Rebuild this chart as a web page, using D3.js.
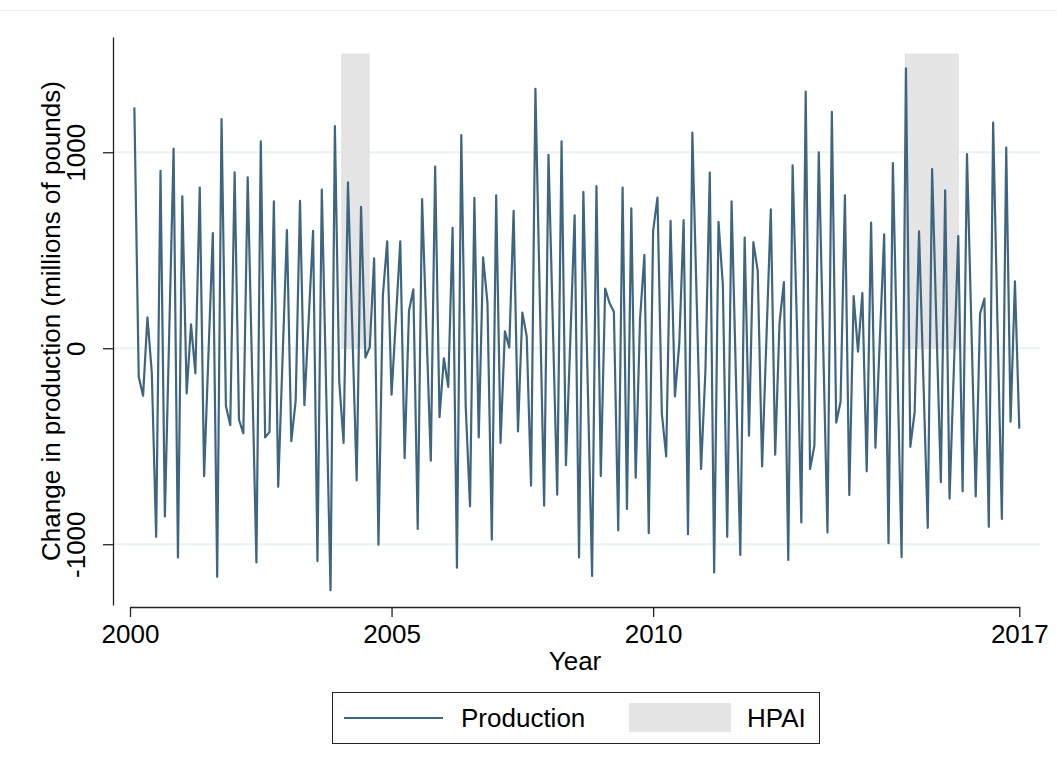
<!DOCTYPE html>
<html>
<head>
<meta charset="utf-8">
<script src="https://cdn.jsdelivr.net/npm/d3@7"></script>
<style>
  body { margin: 0; background: #fff; }
  svg { display: block; font-family: "Liberation Sans", Arial, sans-serif; }
</style>
</head>
<body>
<svg width="1057" height="771"></svg>
<script>
// monthly change in production, starting Feb 2000
var firstYear = 2000
var firstMonth = 2
var production = [
  1229, -146, -242, 158, -124, -962, 905, -858, 80, 1018, -1067,
  775, -231, 122, -128, 820, -653, -30, 587, -1166, 1169, -295, -392,
  898, -365, -434, 872, -110, -1093, 1055, -455, -428, 749, -707, -50,
  603, -474, -270, 752, -290, 150, 599, -1086, 809, -210, -1235, 1133,
  -170, -483, 847, 90, -674, 721, -47, 5, 459, -1002, 266, 546,
  -237, 150, 546, -561, 191, 300, -922, 761, 95, -574, 927, -352,
  -51, -197, 614, -1120, 1087, -290, -807, 767, -455, 464, 231, -976,
  780, -483, 86, 4, 701, -424, 182, 62, -701, 1324, 260, -803,
  987, 120, -747, 1055, -597, 40, 678, -1067, 798, -180, -1162, 827,
  -652, 304, 231, 186, -929, 820, -820, 714, -661, 149, 477, -944,
  599, 769, -333, -552, 650, -246, 22, 654, -949, 1100, 240, -616,
  -115, 896, -1144, 645, 322, -962, 749, -150, -1055, 565, -446, 541,
  395, -603, 55, 709, -543, 131, 337, -1080, 933, 110, -889, 1310,
  -616, -497, 1000, 30, -940, 1206, -379, -273, 780, -749, 266, -18,
  282, -628, 641, -508, 40, 581, -995, 945, -60, -1066, 1428, -503,
  -324, 596, -160, -916, 914, 110, -683, 805, -767, -100, 572, -730,
  991, 120, -756, 177, 253, -911, 1151, 120, -871, 1024, -375, 341,
  -410
]

// HPAI outbreak periods (decimal years) and bar height
var hpaiStart = [2004.05, 2014.82]
var hpaiEnd = [2004.57, 2015.83]
var hpaiTop = 1500

var xTicks = [2000, 2005, 2010, 2017]
var yTicks = [-1000, 0, 1000]

var lineColor = "#3e6680"
var shadeColor = "#e5e5e5"
var gridColor = "#eaf1f3"
var font = 26

var data = production.map(function(v, i) {
  return { t: firstYear + (firstMonth - 1 + i) / 12, v: v }
})
var hpai = hpaiStart.map(function(s, i) { return { s: s, e: hpaiEnd[i] } })

var svg = d3.select("svg")

var xScale = d3.scaleLinear().domain([2000, 2017]).range([130, 1019.3])
var yScale = d3.scaleLinear().domain([-1310, 1588]).range([605, 37])

// faint outer frame line at top
svg.append("line")
  .attr("x1", 0).attr("x2", 1057).attr("y1", 10.5).attr("y2", 10.5)
  .attr("stroke", "#eeeeee").attr("stroke-width", 1)

// gridlines
svg.append("g").selectAll("line")
  .data(yTicks)
  .enter()
  .append("line")
  .attr("x1", 113).attr("x2", 1040)
  .attr("y1", function(d) { return yScale(d) })
  .attr("y2", function(d) { return yScale(d) })
  .attr("stroke", gridColor)
  .attr("stroke-width", 2)

// HPAI shading
svg.append("g").selectAll("rect")
  .data(hpai)
  .enter()
  .append("rect")
  .attr("x", function(d) { return xScale(d.s) })
  .attr("width", function(d) { return xScale(d.e) - xScale(d.s) })
  .attr("y", yScale(hpaiTop))
  .attr("height", yScale(0) - yScale(hpaiTop))
  .attr("fill", shadeColor)
  .attr("stroke", "#dddddd")
  .attr("stroke-width", 1)

// production line
var line = d3.line()
  .x(function(d) { return xScale(d.t) })
  .y(function(d) { return yScale(d.v) })

svg.append("path")
  .datum(data)
  .attr("d", line)
  .attr("fill", "none")
  .attr("stroke", lineColor)
  .attr("stroke-width", 2.2)
  .attr("stroke-linejoin", "round")

// x axis
var xAxis = d3.axisBottom(xScale)
  .tickValues(xTicks)
  .tickFormat(function(d) { return String(d) })
  .tickSize(10)
  .tickSizeOuter(0)

var gx = svg.append("g")
  .attr("transform", "translate(0,607)")
  .call(xAxis)
gx.select(".domain").attr("stroke", "#222").attr("stroke-width", 1.3)
gx.selectAll(".tick line").attr("stroke", "#222").attr("stroke-width", 1.3)
gx.selectAll(".tick text")
  .attr("y", 36).attr("dy", 0)
  .attr("fill", "#000")
  .style("font-size", font + "px")
  .style("font-family", "'Liberation Sans', Arial, sans-serif")

// y axis (plain hyphen for negatives, like the original)
var yAxis = d3.axisLeft(yScale)
  .tickValues(yTicks)
  .tickFormat(function(d) { return String(d) })
  .tickSize(10)
  .tickSizeOuter(0)

var gy = svg.append("g")
  .attr("transform", "translate(113,0)")
  .call(yAxis)
gy.select(".domain").attr("stroke", "#222").attr("stroke-width", 1.3)
gy.selectAll(".tick line").attr("stroke", "#222").attr("stroke-width", 1.3)
gy.selectAll(".tick text")
  .attr("transform", "rotate(-90)")
  .attr("x", 0).attr("y", -28).attr("dy", 0)
  .attr("text-anchor", "middle")
  .attr("fill", "#000")
  .style("font-size", font + "px")
  .style("font-family", "'Liberation Sans', Arial, sans-serif")

// axis titles
svg.append("text")
  .text("Change in production (millions of pounds)")
  .attr("transform", "translate(60,321) rotate(-90)")
  .attr("text-anchor", "middle")
  .style("font-size", font + "px")

svg.append("text")
  .text("Year")
  .attr("x", 575).attr("y", 670)
  .attr("text-anchor", "middle")
  .style("font-size", font + "px")

// legend
var legend = svg.append("g").attr("transform", "translate(332,692)")
legend.append("rect")
  .attr("x", 0.5).attr("y", 0.5).attr("width", 487).attr("height", 51)
  .attr("fill", "#fff").attr("stroke", "#222").attr("stroke-width", 1)
legend.append("line")
  .attr("x1", 12).attr("x2", 111).attr("y1", 26).attr("y2", 26)
  .attr("stroke", lineColor).attr("stroke-width", 2.2)
legend.append("text")
  .text("Production")
  .attr("x", 129).attr("y", 35)
  .style("font-size", font + "px")
legend.append("rect")
  .attr("x", 297).attr("y", 11).attr("width", 102).attr("height", 29)
  .attr("fill", shadeColor)
legend.append("text")
  .text("HPAI")
  .attr("x", 415).attr("y", 35)
  .style("font-size", font + "px")
</script>
</body>
</html>
